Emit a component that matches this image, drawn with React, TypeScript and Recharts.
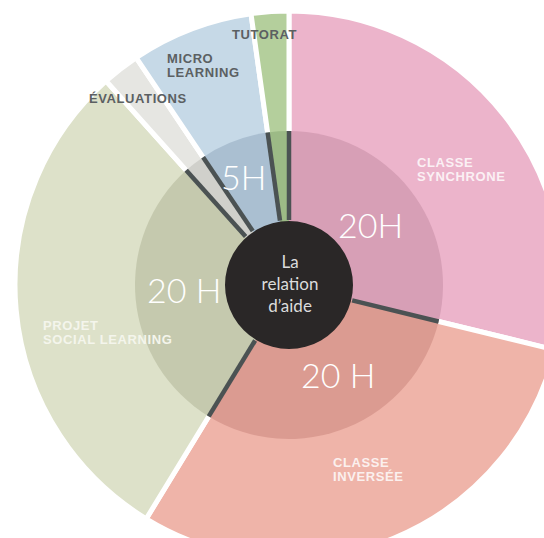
import { Pie, PieChart } from "recharts";

const segments = [
  "Classe synchrone",
  "Classe inversée",
  "Projet social learning",
  "Évaluations",
  "Micro learning",
  "Tutorat",
];
const shares = [104, 108, 107, 8, 26, 8];
const outerColors = ["#ecb4cb", "#efb4a9", "#dde1c9", "#e6e6e2", "#c6d9e7", "#b4cf9c"];
const innerColors = ["#d79fb6", "#db9b91", "#c5c9ae", "#d0d0cb", "#aabfd1", "#9cba86"];

const hourLabels = ["20H", "20 H", "20 H", "5H"];
const centerLines = ["La", "relation", "d’aide"];

const W = 544;
const H = 538;
const CX = 289;
const CY = 285;
const R_OUT = 274;
const R_IN = 154;
const R_HUB = 64;

const outerData = segments.map((name, i) => ({ name, value: shares[i], fill: outerColors[i] }));
const innerData = segments.map((name, i) => ({ name, value: shares[i], fill: innerColors[i] }));

// dark divider along the start edge of each inner sector
const renderDivider = (props: any) => {
  const { cx, cy, startAngle, outerRadius, index } = props;
  const rad = (-startAngle * Math.PI) / 180;
  return (
    <line
      key={`div-${index}`}
      x1={cx + (R_HUB + 1) * Math.cos(rad)}
      y1={cy + (R_HUB + 1) * Math.sin(rad)}
      x2={cx + outerRadius * Math.cos(rad)}
      y2={cy + outerRadius * Math.sin(rad)}
      stroke="#4b5253"
      strokeWidth={4.5}
    />
  );
};

const capStyle = {
  fontFamily: "'Liberation Sans', Arial, sans-serif",
  fontWeight: 700,
  fontSize: 13,
  letterSpacing: 0.6,
};
const hourStyle = {
  fontFamily: "Lato, 'Open Sans', sans-serif",
  fontWeight: 300,
  fontSize: 34,
  fill: "#ffffff",
};

const outerLabels = [
  { lines: ["CLASSE", "SYNCHRONE"], x: 417, y: 167, fill: "#fbf0f4" },
  { lines: ["CLASSE", "INVERSÉE"], x: 333, y: 467, fill: "#fbf0ee" },
  { lines: ["PROJET", "SOCIAL LEARNING"], x: 43, y: 330, fill: "#f4f5ec" },
  { lines: ["ÉVALUATIONS"], x: 89, y: 103, fill: "#5b6062" },
  { lines: ["MICRO", "LEARNING"], x: 167, y: 63, fill: "#5b6062" },
  { lines: ["TUTORAT"], x: 232, y: 39, fill: "#5b6062" },
];
const hourPos = [
  { x: 338, y: 238 },
  { x: 301, y: 388 },
  { x: 147, y: 303 },
  { x: 221, y: 190 },
];

export default function App() {
  return (
    <div style={{ position: "absolute", left: 0, top: 0, width: W, height: H, background: "#fff", overflow: "hidden" }}>
      <PieChart width={W} height={H} margin={{ top: 0, right: 0, bottom: 0, left: 0 }}>
        <Pie
          data={outerData}
          dataKey="value"
          cx={CX}
          cy={CY}
          innerRadius={0}
          outerRadius={R_OUT}
          startAngle={90}
          endAngle={-270}
          stroke="#ffffff"
          strokeWidth={5}
          isAnimationActive={false}
        />
        <Pie
          data={innerData}
          dataKey="value"
          cx={CX}
          cy={CY}
          innerRadius={0}
          outerRadius={R_IN}
          startAngle={90}
          endAngle={-270}
          stroke="none"
          label={renderDivider}
          labelLine={false}
          isAnimationActive={false}
        />
        <Pie
          data={[{ name: "hub", value: 1, fill: "#2a2727" }]}
          dataKey="value"
          cx={CX}
          cy={CY}
          innerRadius={0}
          outerRadius={R_HUB}
          stroke="none"
          isAnimationActive={false}
        />
      </PieChart>
      <svg width={W} height={H} style={{ position: "absolute", left: 0, top: 0, pointerEvents: "none" }}>
        {outerLabels.map((l, i) => (
          <text key={i} x={l.x} y={l.y} fill={l.fill} style={capStyle}>
            {l.lines.map((t, j) => (
              <tspan key={j} x={l.x} dy={j === 0 ? 0 : 14}>
                {t}
              </tspan>
            ))}
          </text>
        ))}
        {hourLabels.map((t, i) => (
          <text key={t + i} x={hourPos[i].x} y={hourPos[i].y} style={hourStyle}>
            {t}
          </text>
        ))}
        {centerLines.map((t, i) => (
          <text
            key={t}
            x={290}
            y={268 + i * 22}
            textAnchor="middle"
            fill="#dcdcdc"
            style={{ fontFamily: "Lato, 'Open Sans', sans-serif", fontSize: 17 }}
          >
            {t}
          </text>
        ))}
      </svg>
    </div>
  );
}
